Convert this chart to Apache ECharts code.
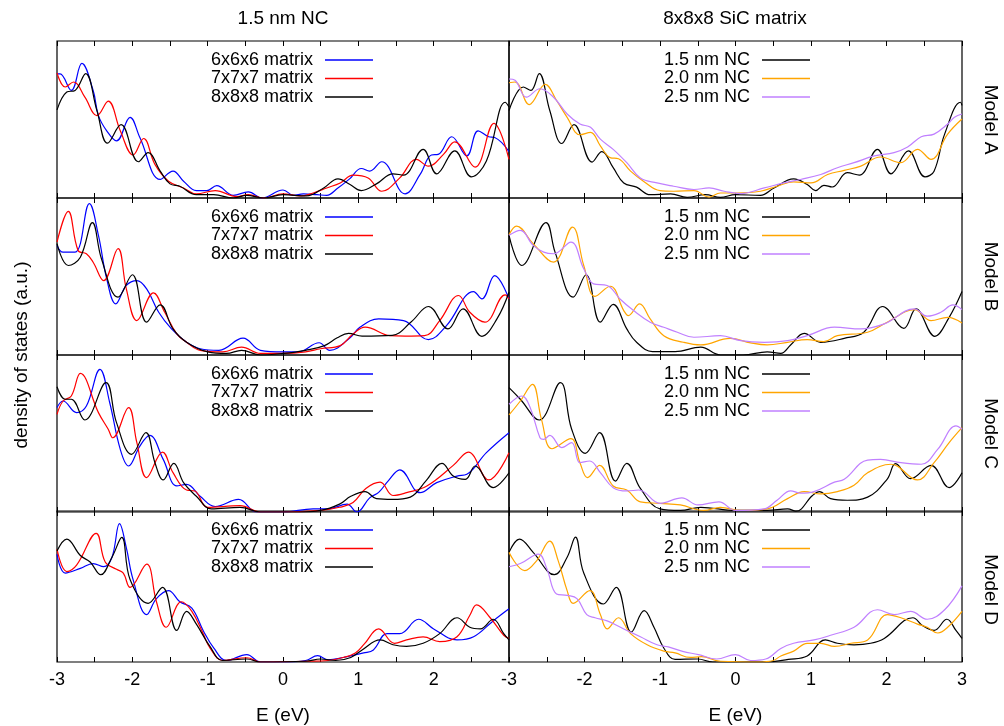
<!DOCTYPE html>
<html>
<head>
<meta charset="utf-8">
<script src="https://cdn.jsdelivr.net/npm/echarts@6/dist/echarts.min.js"></script>
<style>html,body{margin:0;padding:0;background:#fff}#chart{width:1004px;height:726px}</style>
</head>
<body>
<div id="chart"></div>
<script>
// ---- categories / labels ----
const xTicks = [-3, -2, -1, 0, 1, 2, 3];
const leftNames = ['6x6x6 matrix', '7x7x7 matrix', '8x8x8 matrix'];
const rightNames = ['1.5 nm NC', '2.0 nm NC', '2.5 nm NC'];
const models = ['Model A', 'Model B', 'Model C', 'Model D'];
const columnTitles = ['1.5 nm NC', '8x8x8 SiC matrix'];
const xLabel = 'E (eV)';
const yLabel = 'density of states (a.u.)';

// ---- data: [E (eV), DOS (a.u., relative)] ----
// Model A, 1.5 nm NC
const A_6x6x6 = [[-3,0.79],[-2.96,0.79],[-2.81,0.685],[-2.67,0.857],[-2.52,0.685],[-2.45,0.525],[-2.34,0.428],[-2.21,0.364],[-2.03,0.514],[-1.90,0.385],[-1.63,0.118],[-1.46,0.171],[-1.32,0.107],[-1.15,0.047],[-1.01,0.047],[-0.88,0.079],[-0.66,0.017],[-0.46,0.039],[-0.28,0.0],[0.0,0.051],[0.14,0.017],[0.27,0.026],[0.45,0.021],[0.58,0.017],[0.72,0.06],[0.88,0.12],[1.04,0.188],[1.15,0.171],[1.31,0.231],[1.62,0.026],[1.82,0.15],[1.97,0.274],[2.06,0.278],[2.24,0.39],[2.44,0.268],[2.59,0.428],[2.73,0.39],[2.81,0.385],[3.0,0.296]];
const A_7x7x7 = [[-3,0.797],[-2.89,0.707],[-2.78,0.739],[-2.63,0.642],[-2.47,0.525],[-2.32,0.617],[-2.16,0.428],[-1.99,0.274],[-1.85,0.379],[-1.70,0.214],[-1.52,0.107],[-1.32,0.064],[-1.15,0.026],[-0.90,0.047],[-0.61,0.009],[-0.46,0.021],[-0.26,0.0],[0.0,0.026],[0.23,0.013],[0.40,0.032],[0.58,0.064],[0.76,0.096],[0.93,0.146],[1.13,0.128],[1.31,0.043],[1.55,0.128],[1.77,0.246],[1.93,0.203],[2.13,0.278],[2.28,0.358],[2.55,0.197],[2.80,0.475],[3.0,0.246]];
const A_8x8x8 = [[-3,0.561],[-2.87,0.675],[-2.76,0.685],[-2.62,0.792],[-2.47,0.557],[-2.33,0.349],[-2.15,0.467],[-1.92,0.231],[-1.79,0.289],[-1.63,0.171],[-1.50,0.09],[-1.37,0.075],[-1.15,0.021],[-0.92,0.021],[-0.66,0.0],[-0.48,0.017],[-0.26,0.0],[0.0,0.021],[0.31,0.013],[0.54,0.064],[0.73,0.122],[0.89,0.086],[1.04,0.047],[1.24,0.09],[1.46,0.154],[1.60,0.146],[1.86,0.31],[2.04,0.154],[2.28,0.30],[2.50,0.135],[2.70,0.236],[2.95,0.61],[3.0,0.58]];
// Model A, 8x8x8 SiC matrix
const A_15nm = [[-3,0.557],[-2.81,0.707],[-2.71,0.685],[-2.60,0.792],[-2.46,0.557],[-2.30,0.347],[-2.14,0.467],[-1.90,0.229],[-1.77,0.296],[-1.62,0.193],[-1.48,0.096],[-1.31,0.069],[-1.13,0.021],[-0.86,0.026],[-0.64,0.004],[-0.40,0.021],[-0.20,0.004],[0.0,0.021],[0.33,0.017],[0.51,0.064],[0.77,0.122],[0.95,0.086],[1.06,0.047],[1.17,0.081],[1.28,0.07],[1.48,0.161],[1.64,0.146],[1.88,0.31],[2.06,0.154],[2.29,0.30],[2.51,0.135],[2.63,0.171],[2.77,0.407],[2.98,0.61],[3.0,0.59]];
const A_20nm = [[-3,0.734],[-2.92,0.739],[-2.73,0.595],[-2.52,0.724],[-2.37,0.621],[-2.23,0.514],[-2.06,0.403],[-1.92,0.418],[-1.79,0.332],[-1.66,0.257],[-1.55,0.25],[-1.39,0.171],[-1.22,0.107],[-1.0,0.047],[-0.82,0.043],[-0.55,0.047],[-0.35,0.006],[-0.20,0.032],[0.02,0.032],[0.33,0.043],[0.55,0.075],[0.77,0.103],[1.0,0.096],[1.22,0.15],[1.44,0.176],[1.66,0.203],[1.92,0.261],[2.19,0.225],[2.41,0.31],[2.59,0.246],[2.81,0.407],[3.0,0.503]];
const A_25nm = [[-3,0.758],[-2.92,0.75],[-2.77,0.642],[-2.59,0.696],[-2.41,0.642],[-2.23,0.535],[-2.06,0.471],[-1.92,0.45],[-1.79,0.375],[-1.62,0.31],[-1.44,0.225],[-1.26,0.128],[-1.04,0.096],[-0.82,0.075],[-0.55,0.054],[-0.35,0.064],[-0.15,0.043],[0.07,0.028],[0.38,0.064],[0.64,0.096],[0.86,0.118],[1.13,0.15],[1.35,0.193],[1.57,0.225],[1.84,0.268],[2.10,0.289],[2.28,0.325],[2.46,0.39],[2.63,0.407],[2.81,0.471],[2.90,0.514],[3.0,0.535]];
// Model B, 1.5 nm NC
const B_6x6x6 = [[-3,0.698],[-2.92,0.655],[-2.76,0.655],[-2.57,0.964],[-2.45,0.762],[-2.34,0.485],[-2.22,0.326],[-2.08,0.443],[-1.94,0.474],[-1.81,0.421],[-1.65,0.272],[-1.48,0.166],[-1.28,0.081],[-1.1,0.04],[-0.85,0.03],[-0.53,0.107],[-0.3,0.03],[0.0,0.02],[0.2,0.02],[0.48,0.078],[0.62,0.03],[0.89,0.11],[1.02,0.177],[1.27,0.23],[1.6,0.219],[1.93,0.098],[2.17,0.187],[2.53,0.404],[2.64,0.357],[2.81,0.506],[3.0,0.357]];
const B_7x7x7 = [[-3,0.719],[-2.85,0.915],[-2.72,0.666],[-2.61,0.645],[-2.52,0.591],[-2.38,0.474],[-2.19,0.677],[-2.08,0.421],[-1.94,0.219],[-1.72,0.396],[-1.57,0.272],[-1.41,0.134],[-1.28,0.081],[-1.1,0.03],[-0.8,0.02],[-0.55,0.05],[-0.3,0.01],[0.0,0.01],[0.3,0.02],[0.5,0.04],[0.76,0.06],[0.93,0.134],[1.09,0.177],[1.42,0.123],[1.62,0.12],[1.88,0.123],[2.08,0.219],[2.33,0.379],[2.48,0.272],[2.68,0.209],[2.95,0.383],[3.0,0.357]];
const B_8x8x8 = [[-3,0.709],[-2.85,0.57],[-2.69,0.623],[-2.53,0.843],[-2.41,0.613],[-2.19,0.368],[-2.0,0.511],[-1.81,0.209],[-1.63,0.319],[-1.46,0.166],[-1.28,0.081],[-1.0,0.02],[-0.75,0.01],[-0.55,0.03],[-0.3,0.0],[0.0,0.01],[0.3,0.03],[0.55,0.06],[0.72,0.11],[0.87,0.138],[1.05,0.12],[1.45,0.125],[1.7,0.21],[1.93,0.309],[2.19,0.166],[2.39,0.294],[2.64,0.119],[2.84,0.23],[3.0,0.40]];
// Model B, 8x8x8 SiC matrix
const B_15nm = [[-3,0.762],[-2.83,0.57],[-2.51,0.843],[-2.39,0.655],[-2.15,0.368],[-1.98,0.511],[-1.79,0.209],[-1.62,0.323],[-1.44,0.166],[-1.31,0.081],[-1.1,0.022],[-0.8,0.022],[-0.46,0.05],[-0.2,0.0],[0.1,0.0],[0.42,0.02],[0.6,0.01],[0.73,0.064],[0.91,0.138],[1.13,0.081],[1.44,0.106],[1.7,0.145],[1.95,0.309],[2.23,0.17],[2.39,0.294],[2.64,0.119],[2.83,0.24],[3.0,0.404]];
const B_20nm = [[-3,0.766],[-2.9,0.821],[-2.68,0.709],[-2.41,0.591],[-2.16,0.815],[-2.01,0.57],[-1.86,0.374],[-1.66,0.438],[-1.48,0.283],[-1.42,0.251],[-1.27,0.326],[-1.13,0.23],[-0.95,0.123],[-0.69,0.081],[-0.46,0.064],[-0.07,0.106],[0.2,0.077],[0.42,0.064],[0.69,0.081],[0.95,0.098],[1.17,0.085],[1.35,0.123],[1.75,0.145],[2.01,0.209],[2.37,0.289],[2.59,0.219],[2.81,0.24],[3.0,0.204]];
const B_25nm = [[-3,0.762],[-2.85,0.794],[-2.68,0.698],[-2.54,0.655],[-2.41,0.645],[-2.18,0.719],[-2.01,0.549],[-1.88,0.453],[-1.70,0.443],[-1.53,0.357],[-1.35,0.283],[-1.13,0.209],[-0.95,0.177],[-0.77,0.145],[-0.55,0.113],[-0.2,0.123],[0.07,0.091],[0.38,0.081],[0.69,0.091],[0.95,0.123],[1.31,0.177],[1.66,0.166],[1.97,0.198],[2.37,0.294],[2.54,0.247],[2.72,0.272],[2.88,0.319],[3.0,0.289]];
// Model C, 1.5 nm NC
const C_6x6x6 = [[-3,0.665],[-2.92,0.707],[-2.74,0.633],[-2.61,0.675],[-2.43,0.909],[-2.30,0.696],[-2.16,0.399],[-2.05,0.293],[-1.90,0.42],[-1.77,0.488],[-1.59,0.335],[-1.41,0.166],[-1.28,0.176],[-1.10,0.10],[-0.9,0.035],[-0.59,0.08],[-0.35,0.0],[0.0,0.0],[0.4,0.02],[0.6,0.02],[0.85,0.05],[0.98,0.0],[1.15,0.09],[1.27,0.125],[1.4,0.2],[1.55,0.268],[1.82,0.123],[2.04,0.187],[2.31,0.229],[2.44,0.24],[2.70,0.378],[3.0,0.505]];
const C_7x7x7 = [[-3,0.622],[-2.92,0.707],[-2.81,0.739],[-2.69,0.883],[-2.45,0.633],[-2.32,0.527],[-2.26,0.473],[-2.05,0.665],[-1.94,0.442],[-1.81,0.219],[-1.60,0.382],[-1.46,0.251],[-1.28,0.14],[-1.17,0.134],[-1.0,0.03],[-0.57,0.04],[-0.3,0.0],[0.0,0.0],[0.5,0.01],[0.75,0.03],[0.93,0.06],[1.1,0.15],[1.29,0.19],[1.46,0.105],[1.64,0.123],[1.91,0.166],[2.26,0.297],[2.46,0.382],[2.73,0.204],[3.0,0.378]];
const C_8x8x8 = [[-3,0.798],[-2.89,0.718],[-2.81,0.718],[-2.63,0.586],[-2.35,0.824],[-2.21,0.569],[-2.01,0.367],[-1.82,0.505],[-1.70,0.314],[-1.59,0.204],[-1.45,0.31],[-1.32,0.187],[-1.15,0.10],[-0.95,0.02],[-0.57,0.03],[-0.3,0.0],[0.2,0.0],[0.5,0.01],[0.75,0.05],[0.9,0.1],[1.09,0.13],[1.24,0.085],[1.45,0.08],[1.69,0.095],[1.9,0.2],[2.11,0.31],[2.26,0.229],[2.42,0.208],[2.55,0.293],[2.79,0.155],[3.0,0.25]];
// Model C, 8x8x8 SiC matrix
const C_15nm = [[-3,0.792],[-2.85,0.718],[-2.60,0.586],[-2.32,0.824],[-2.17,0.527],[-1.99,0.374],[-1.80,0.505],[-1.59,0.197],[-1.44,0.31],[-1.26,0.15],[-1.0,0.02],[-0.73,0.01],[-0.46,0.03],[0.0,0.01],[0.42,0.01],[0.69,0.02],[0.8,0.005],[1.02,0.105],[1.11,0.13],[1.26,0.085],[1.48,0.075],[1.75,0.095],[2.01,0.21],[2.12,0.308],[2.32,0.212],[2.59,0.297],[2.83,0.155],[3.0,0.25]];
const C_20nm = [[-3,0.618],[-2.85,0.707],[-2.69,0.813],[-2.57,0.59],[-2.43,0.403],[-2.18,0.467],[-2.06,0.314],[-1.96,0.219],[-1.80,0.297],[-1.62,0.166],[-1.44,0.14],[-1.26,0.065],[-1.0,0.055],[-0.73,0.045],[-0.42,0.01],[-0.2,0.03],[0.07,0.01],[0.42,0.02],[0.69,0.085],[0.91,0.13],[1.13,0.115],[1.35,0.13],[1.57,0.17],[1.75,0.25],[2.06,0.304],[2.41,0.204],[2.63,0.314],[2.83,0.442],[3.0,0.537]];
const C_25nm = [[-3,0.686],[-2.83,0.739],[-2.72,0.665],[-2.59,0.473],[-2.54,0.463],[-2.46,0.488],[-2.30,0.41],[-2.17,0.442],[-2.06,0.314],[-1.93,0.325],[-1.79,0.251],[-1.62,0.155],[-1.44,0.134],[-1.28,0.14],[-1.0,0.055],[-0.71,0.09],[-0.5,0.045],[-0.22,0.065],[0.0,0.01],[0.38,0.02],[0.55,0.075],[0.73,0.135],[0.86,0.12],[1.04,0.13],[1.31,0.19],[1.44,0.208],[1.75,0.331],[1.92,0.335],[2.19,0.314],[2.46,0.304],[2.68,0.40],[2.92,0.548],[3.0,0.527]];
// Model D, 1.5 nm NC
const D_6x6x6 = [[-3,0.715],[-2.89,0.589],[-2.69,0.62],[-2.52,0.652],[-2.38,0.631],[-2.27,0.694],[-2.17,0.916],[-2.08,0.757],[-1.99,0.546],[-1.81,0.314],[-1.68,0.42],[-1.52,0.473],[-1.37,0.399],[-1.21,0.357],[-1.06,0.209],[-0.92,0.093],[-0.75,0.01],[-0.48,0.049],[-0.3,0.0],[0.0,0.0],[0.3,0.01],[0.46,0.042],[0.6,0.015],[0.8,0.03],[1.07,0.06],[1.2,0.08],[1.38,0.188],[1.55,0.188],[1.80,0.283],[2.0,0.219],[2.31,0.146],[2.53,0.167],[2.79,0.272],[3.0,0.352]];
const D_7x7x7 = [[-3,0.747],[-2.87,0.599],[-2.74,0.641],[-2.48,0.852],[-2.36,0.662],[-2.21,0.614],[-2.12,0.589],[-2.03,0.494],[-1.81,0.648],[-1.68,0.399],[-1.55,0.23],[-1.35,0.399],[-1.21,0.335],[-1.06,0.188],[-0.97,0.093],[-0.8,0.01],[-0.48,0.028],[-0.3,0.0],[0.3,0.005],[0.6,0.01],[0.8,0.03],[0.96,0.06],[1.08,0.12],[1.27,0.219],[1.48,0.124],[1.64,0.146],[1.86,0.167],[2.08,0.135],[2.31,0.167],[2.48,0.31],[2.57,0.378],[2.75,0.293],[2.93,0.177],[3.0,0.156]];
const D_8x8x8 = [[-3,0.736],[-2.87,0.814],[-2.69,0.705],[-2.56,0.662],[-2.42,0.578],[-2.27,0.694],[-2.14,0.825],[-2.03,0.546],[-1.79,0.388],[-1.60,0.494],[-1.41,0.209],[-1.28,0.335],[-1.15,0.251],[-0.97,0.103],[-0.8,0.01],[-0.48,0.02],[-0.3,0.0],[0.3,0.005],[0.5,0.02],[0.7,0.01],[0.9,0.03],[1.05,0.08],[1.29,0.146],[1.46,0.114],[1.64,0.103],[1.86,0.124],[2.08,0.188],[2.31,0.293],[2.48,0.23],[2.62,0.219],[2.79,0.283],[2.93,0.188],[3.0,0.146]];
// Model D, 8x8x8 SiC matrix
const D_15nm = [[-3,0.726],[-2.86,0.814],[-2.68,0.726],[-2.40,0.578],[-2.23,0.694],[-2.12,0.827],[-2.01,0.589],[-1.75,0.384],[-1.58,0.494],[-1.38,0.198],[-1.21,0.34],[-1.08,0.23],[-0.95,0.093],[-0.8,0.017],[-0.5,0.02],[-0.3,0.0],[0.4,0.0],[0.7,0.017],[0.95,0.04],[1.19,0.146],[1.35,0.124],[1.57,0.114],[1.79,0.124],[1.97,0.156],[2.35,0.293],[2.48,0.24],[2.63,0.209],[2.80,0.283],[2.92,0.209],[3.0,0.156]];
const D_20nm = [[-3,0.726],[-2.79,0.605],[-2.63,0.673],[-2.46,0.80],[-2.35,0.673],[-2.23,0.473],[-2.15,0.388],[-1.93,0.473],[-1.79,0.314],[-1.70,0.219],[-1.55,0.293],[-1.39,0.188],[-1.17,0.114],[-0.95,0.072],[-0.8,0.06],[-0.6,0.03],[-0.45,0.035],[-0.2,0.005],[0.3,0.0],[0.5,0.01],[0.6,0.04],[0.77,0.072],[0.95,0.124],[1.13,0.124],[1.31,0.103],[1.53,0.124],[1.75,0.146],[2.01,0.314],[2.19,0.293],[2.41,0.251],[2.54,0.23],[2.68,0.192],[2.81,0.23],[3.0,0.335]];
const D_25nm = [[-3,0.631],[-2.85,0.652],[-2.61,0.715],[-2.50,0.62],[-2.37,0.451],[-2.23,0.441],[-2.10,0.42],[-1.97,0.314],[-1.86,0.293],[-1.70,0.272],[-1.48,0.219],[-1.26,0.167],[-1.04,0.114],[-0.89,0.1],[-0.7,0.07],[-0.49,0.049],[-0.25,0.02],[0.0,0.049],[0.2,0.01],[0.4,0.02],[0.6,0.09],[0.77,0.124],[1.04,0.146],[1.26,0.177],[1.57,0.23],[1.88,0.346],[2.1,0.314],[2.32,0.335],[2.54,0.283],[2.77,0.346],[3.0,0.504]];

// ---- assembly ----
const panelData = [
  [[A_6x6x6, A_7x7x7, A_8x8x8], [A_15nm, A_20nm, A_25nm]],
  [[B_6x6x6, B_7x7x7, B_8x8x8], [B_15nm, B_20nm, B_25nm]],
  [[C_6x6x6, C_7x7x7, C_8x8x8], [C_15nm, C_20nm, C_25nm]],
  [[D_6x6x6, D_7x7x7, D_8x8x8], [D_15nm, D_20nm, D_25nm]]
];
const names = [leftNames, rightNames];
const colors = [['#0000ff', '#ff0000', '#000000'], ['#000000', '#ffa500', '#c080ff']];

const FONT = "'Liberation Sans', Arial, Helvetica, sans-serif";
const rowTops = [41, 198, 355, 511];
const rowH = 157;
const colLefts = [57, 509];
const colW = [452, 453];
const legendRight = [626, 189];

const grid = [], xAxis = [], yAxis = [], series = [], legend = [];
for (let r = 0; r < 4; r++) {
  for (let c = 0; c < 2; c++) {
    const g = r * 2 + c;
    grid.push({left: colLefts[c], top: rowTops[r], width: colW[c], height: rowH,
      show: true, borderColor: '#000', borderWidth: 1.2, backgroundColor: 'transparent'});
    const isBottom = r === 3;
    xAxis.push({
      gridIndex: g, type: 'value', min: -3, max: 3, interval: 0.5, position: 'bottom',
      axisLine: {show: false},
      axisTick: {show: true, inside: true, length: 5, lineStyle: {color: '#000', width: 1}},
      splitLine: {show: false},
      axisLabel: {show: isBottom, color: '#000', fontSize: 18, fontFamily: FONT, margin: 9,
        showMaxLabel: c === 1, showMinLabel: true,
        formatter: v => (xTicks.indexOf(v) >= 0 ? String(v) : '')},
      name: isBottom ? xLabel : '', nameLocation: 'middle', nameGap: 44,
      nameTextStyle: {color: '#000', fontSize: 19, fontFamily: FONT}
    });
    xAxis.push({
      gridIndex: g, type: 'value', min: -3, max: 3, interval: 0.5, position: 'top',
      axisLine: {show: false},
      axisTick: {show: true, inside: true, length: 5, lineStyle: {color: '#000', width: 1}},
      splitLine: {show: false}, axisLabel: {show: false}
    });
    yAxis.push({gridIndex: g, type: 'value', min: 0, max: 1, show: false});
    for (let k = 0; k < 3; k++) {
      series.push({
        type: 'line', name: names[c][k], xAxisIndex: g * 2, yAxisIndex: g,
        data: panelData[r][c][k], smooth: 0.4, symbol: 'none', showSymbol: false,
        silent: true, animation: false,
        itemStyle: {color: colors[c][k]},
        lineStyle: {color: colors[c][k], width: 1.2}
      });
    }
    legend.push({
      data: names[c], orient: 'vertical', align: 'right', right: legendRight[c], top: rowTops[r] + 5,
      icon: 'rect', itemWidth: 48, itemHeight: 1.4, itemGap: 0.5, selectedMode: false,
      textStyle: {color: '#000', fontSize: 18, fontFamily: FONT, padding: [0, 7, 0, 0], lineHeight: 18}
    });
  }
}

const graphic = [
  {type: 'text', x: 283, y: 19, style: {text: columnTitles[0], fontSize: 19, fontFamily: FONT, fill: '#000', align: 'center', verticalAlign: 'middle'}},
  {type: 'text', x: 735, y: 19, style: {text: columnTitles[1], fontSize: 19, fontFamily: FONT, fill: '#000', align: 'center', verticalAlign: 'middle'}},
  {type: 'text', x: 22, y: 355, rotation: Math.PI / 2, style: {text: yLabel, fontSize: 19, fontFamily: FONT, fill: '#000', align: 'center', verticalAlign: 'middle'}}
];
for (let r = 0; r < 4; r++) {
  graphic.push({type: 'text', x: 990, y: rowTops[r] + rowH / 2, rotation: -Math.PI / 2,
    style: {text: models[r], fontSize: 19, fontFamily: FONT, fill: '#000', align: 'center', verticalAlign: 'middle'}});
}

const chart = echarts.init(document.getElementById('chart'), null, {renderer: 'canvas'});
chart.setOption({animation: false, backgroundColor: '#fff', grid, xAxis, yAxis, series, legend, graphic});
</script>
</body>
</html>
